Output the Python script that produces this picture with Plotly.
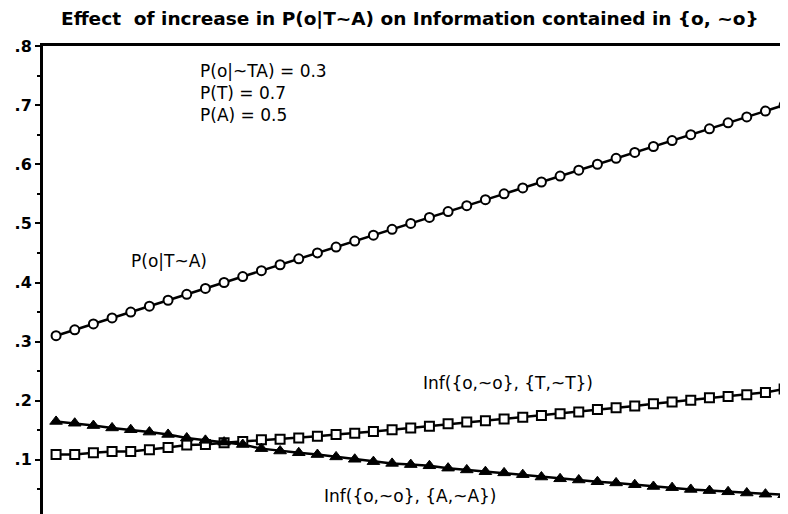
import plotly.graph_objects as go

# x: P(o|T~A)
p_o_TnA = [0.31, 0.32, 0.33, 0.34, 0.35, 0.36, 0.37, 0.38, 0.39, 0.40,
           0.41, 0.42, 0.43, 0.44, 0.45, 0.46, 0.47, 0.48, 0.49, 0.50,
           0.51, 0.52, 0.53, 0.54, 0.55, 0.56, 0.57, 0.58, 0.59, 0.60,
           0.61, 0.62, 0.63, 0.64, 0.65, 0.66, 0.67, 0.68, 0.69, 0.70]

inf_T = [0.109, 0.109, 0.112, 0.114, 0.114, 0.117, 0.121, 0.125, 0.126, 0.129,
         0.131, 0.134, 0.135, 0.137, 0.140, 0.143, 0.145, 0.148, 0.151, 0.154,
         0.157, 0.161, 0.164, 0.166, 0.169, 0.172, 0.175, 0.178, 0.181, 0.185,
         0.188, 0.191, 0.195, 0.198, 0.201, 0.205, 0.207, 0.210, 0.214, 0.220]

inf_A = [0.165, 0.162, 0.158, 0.154, 0.151, 0.147, 0.143, 0.137, 0.133, 0.130,
         0.126, 0.119, 0.115, 0.112, 0.109, 0.105, 0.101, 0.097, 0.094, 0.092,
         0.090, 0.086, 0.083, 0.080, 0.078, 0.075, 0.071, 0.068, 0.066, 0.063,
         0.061, 0.058, 0.055, 0.053, 0.050, 0.048, 0.046, 0.044, 0.042, 0.041]

y_tickvals = [0, 0.1, 0.2, 0.3, 0.4, 0.5, 0.6, 0.7, 0.8]
y_ticktext = ["0", ".1", ".2", ".3", ".4", ".5", ".6", ".7", ".8"]

title_text = "Effect  of increase in P(o|T~A) on Information contained in {o, ~o}"
params_text = "P(o|~TA) = 0.3<br>P(T) = 0.7<br>P(A) = 0.5"

FONT = "DejaVu Sans"

fig = go.Figure()
fig.add_trace(go.Scatter(
    x=p_o_TnA, y=p_o_TnA, mode="lines+markers",
    line=dict(color="black", width=2.5),
    marker=dict(symbol="circle", size=9, color="white",
                line=dict(color="black", width=2)),
    showlegend=False))
fig.add_trace(go.Scatter(
    x=p_o_TnA, y=inf_T, mode="lines+markers",
    line=dict(color="black", width=2.5),
    marker=dict(symbol="square", size=9, color="white",
                line=dict(color="black", width=2)),
    showlegend=False))
fig.add_trace(go.Scatter(
    x=p_o_TnA, y=inf_A, mode="lines+markers",
    line=dict(color="black", width=2.5),
    marker=dict(symbol="triangle-up", size=11, color="black",
                line=dict(color="black", width=1)),
    showlegend=False))

ann_font = dict(family=FONT, size=17, color="black")
fig.add_annotation(x=0.4887, y=1.058, xref="paper", yref="paper",
                   text="<b>" + title_text + "</b>", showarrow=False,
                   font=dict(family=FONT, size=18.5, color="black"),
                   xanchor="center", yanchor="middle")
fig.add_annotation(x=0.386, y=0.721, xref="x", yref="y", text=params_text,
                   showarrow=False, align="left", xanchor="left",
                   yanchor="middle", font=ann_font)
fig.add_annotation(x=0.3705, y=0.436, xref="x", yref="y", text="P(o|T~A)",
                   showarrow=False, xanchor="center", yanchor="middle",
                   font=ann_font)
fig.add_annotation(x=0.552, y=0.230, xref="x", yref="y",
                   text="Inf({o,~o}, {T,~T})", showarrow=False,
                   xanchor="center", yanchor="middle", font=ann_font)
fig.add_annotation(x=0.4996, y=0.039, xref="x", yref="y",
                   text="Inf({o,~o}, {A,~A})", showarrow=False,
                   xanchor="center", yanchor="middle", font=ann_font)

fig.update_layout(
    width=788, height=514,
    margin=dict(l=35, r=2, t=38, b=3),
    paper_bgcolor="white", plot_bgcolor="white",
    font=dict(family=FONT, color="black"),
    xaxis=dict(range=[0.3030, 0.7053], showgrid=False, zeroline=False,
               showline=True, linecolor="black", linewidth=2.5, mirror=True,
               showticklabels=False, ticks=""),
    yaxis=dict(range=[0, 0.8], showgrid=False, zeroline=False,
               showline=True, linecolor="black", linewidth=3,
               tickvals=y_tickvals, ticktext=y_ticktext,
               ticks="outside", ticklen=5, tickwidth=2, tickcolor="black",
               tickfont=dict(family=FONT, size=16, color="black", weight="bold"),
               minor=dict(tickvals=[0.05, 0.15, 0.25, 0.35, 0.45, 0.55, 0.65, 0.75],
                          ticks="outside", ticklen=3, tickwidth=2, tickcolor="black"),
               automargin=False),
)

fig.write_html("out.html")
